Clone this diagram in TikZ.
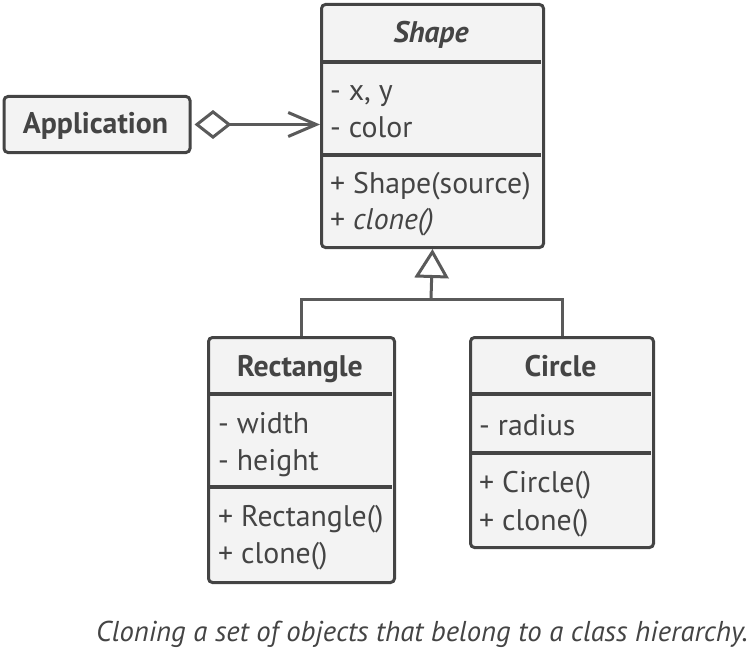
\documentclass[tikz,border=0pt]{standalone}
\usepackage{fontspec}
\setmainfont{PT Sans}
\usetikzlibrary{arrows.meta}
\definecolor{bord}{HTML}{444444}
\definecolor{boxfill}{HTML}{F3F3F3}
\definecolor{conn}{HTML}{5A5A5A}
\begin{document}
\begin{tikzpicture}[x=1pt,y=-1pt,
  box/.style={draw=bord, fill=boxfill, line width=3pt, rounded corners=4pt, inner sep=0pt, anchor=north west},
  divider/.style={draw=bord, line width=3.5pt},
  cls/.style={font=\fontsize{29.8}{32}\selectfont\bfseries, text=bord, inner sep=0pt, anchor=base},
  member/.style={font=\fontsize{29.8}{32}\selectfont, text=bord, inner sep=0pt, anchor=base west},
  connector/.style={draw=conn, line width=3pt},
  caption/.style={font=\fontsize{28.7}{32}\selectfont\itshape, text=bord, inner sep=0pt, anchor=base east}]
\useasboundingbox (0,0) rectangle (751,650);

% Shape
\node[box, minimum width=222pt, minimum height=243pt] (shape) at (320,3) {};
\draw[divider] (321.5,62) -- (540.5,62);
\draw[divider] (321.5,155) -- (540.5,155);
\node[cls, font=\fontsize{29.8}{32}\selectfont\bfseries\itshape] (shapet) at (431,43) {Shape};
\node[member] (sa1) at (330,100) {- x, y};
\node[member] (sa2) at (330,137) {- color};
\node[member] (sm1) at (330,193) {+ Shape(source)};
\node[member] (sm2) at (330,229) {+ \textit{clone()}};

% Application
\node[box, minimum width=186pt, minimum height=56pt] (app) at (2.5,95) {};
\node[cls] (appt) at (95.5,133) {Application};

% Rectangle
\node[box, minimum width=186pt, minimum height=245pt] (rect) at (207,336) {};
\draw[divider] (208.5,394) -- (391.5,394);
\draw[divider] (208.5,487) -- (391.5,487);
\node[cls] (rectt) at (300,376) {Rectangle};
\node[member] (ra1) at (218,433) {- width};
\node[member] (ra2) at (218,470) {- height};
\node[member] (rm1) at (218,526) {+ Rectangle()};
\node[member] (rm2) at (218,563) {+ clone()};

% Circle
\node[box, minimum width=183pt, minimum height=210pt] (circ) at (469,336) {};
\draw[divider] (470.5,394) -- (650.5,394);
\draw[divider] (470.5,453) -- (650.5,453);
\node[cls] (circt) at (560.5,376) {Circle};
\node[member] (ca1) at (479,435) {- radius};
\node[member] (cm1) at (479,492) {+ Circle()};
\node[member] (cm2) at (479,530) {+ clone()};

% connectors
\draw[connector, {Diamond[open, length=37pt, width=29pt, line width=3pt]}-{Straight Barb[length=28pt, width=24pt, line width=3pt]}, shorten <=3pt]
  (app.east) -- (app.east -| shape.west);
\coordinate (join) at (431,299);
\draw[connector] (rect.north) |- (join) -| (circ.north);
\draw[connector, -{Triangle[open, length=29pt, width=34pt, line width=3pt]}] (join) -- (shape.south);

% caption
\node[caption] (cap) at (748,641) {Cloning a set of objects that belong to a class hierarchy.};
\end{tikzpicture}
\end{document}
